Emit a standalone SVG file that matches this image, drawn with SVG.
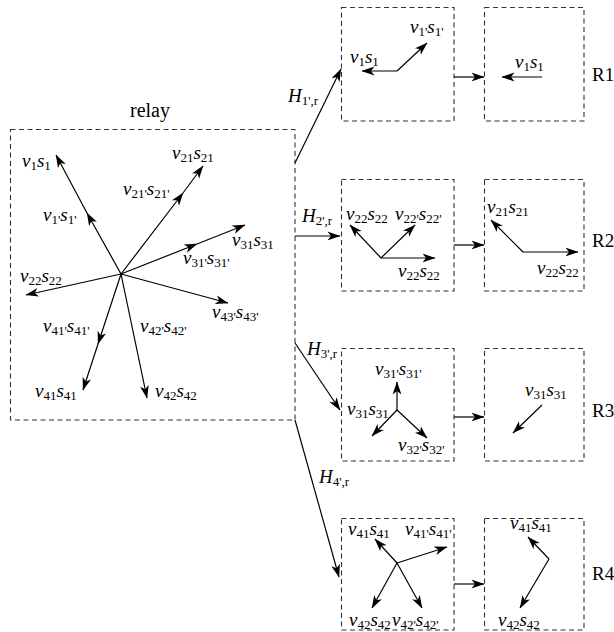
<svg xmlns="http://www.w3.org/2000/svg" width="614" height="632" viewBox="0 0 614 632">
<style>
.box{fill:none;stroke:#333;stroke-width:1.1;stroke-dasharray:5 3.5}
.ar{fill:none;stroke:#000;stroke-width:1.2;marker-end:url(#ah)}
.am{fill:none;stroke:#000;stroke-width:1.2;marker-mid:url(#ah);marker-end:url(#ah)}
.tx{font-family:'Times New Roman','Liberation Serif',Tinos,'Noto Serif','DejaVu Serif',serif;font-size:19px;fill:#000}
.i{font-style:italic}
.s{font-size:13px}
</style>
<defs>
<marker id="ah" viewBox="0 0 13 10" markerWidth="13" markerHeight="10" refX="12.5" refY="5" orient="auto" markerUnits="userSpaceOnUse">
<path d="M13,5 L0,0.6 L3.5,5 L0,9.4 Z" fill="#000"/>
</marker>
</defs>
<g class="tx">
<g id="relay">
<rect class="box" x="10.5" y="129.5" width="284.5" height="290.5"/>
<text x="130" y="117" font-size="20">relay</text>
<path class="am" d="M121,274 L87,213 L56,155"/>
<path class="am" d="M121,274 L183,193 L203,166"/>
<path class="am" d="M121,274 L197,244 L245,225"/>
<path class="ar" d="M121,274 L26,295"/>
<path class="am" d="M121,274 L98,344 L83,390"/>
<path class="ar" d="M121,274 L147,398"/>
<path class="ar" d="M121,274 L228,303"/>
<text x="22" y="167"><tspan class="i">v</tspan><tspan class="s" dy="3">1</tspan><tspan class="i" dy="-3">s</tspan><tspan class="s" dy="3">1</tspan></text>
<text x="43" y="221"><tspan class="i">v</tspan><tspan class="s" dy="3">1'</tspan><tspan class="i" dy="-3">s</tspan><tspan class="s" dy="3">1'</tspan></text>
<text x="172" y="159"><tspan class="i">v</tspan><tspan class="s" dy="3">21</tspan><tspan class="i" dy="-3">s</tspan><tspan class="s" dy="3">21</tspan></text>
<text x="123" y="195"><tspan class="i">v</tspan><tspan class="s" dy="3">21'</tspan><tspan class="i" dy="-3">s</tspan><tspan class="s" dy="3">21'</tspan></text>
<text x="232" y="246"><tspan class="i">v</tspan><tspan class="s" dy="3">31</tspan><tspan class="i" dy="-3">s</tspan><tspan class="s" dy="3">31</tspan></text>
<text x="183" y="264"><tspan class="i">v</tspan><tspan class="s" dy="3">31'</tspan><tspan class="i" dy="-3">s</tspan><tspan class="s" dy="3">31'</tspan></text>
<text x="20" y="282"><tspan class="i">v</tspan><tspan class="s" dy="3">22</tspan><tspan class="i" dy="-3">s</tspan><tspan class="s" dy="3">22</tspan></text>
<text x="212" y="318"><tspan class="i">v</tspan><tspan class="s" dy="3">43'</tspan><tspan class="i" dy="-3">s</tspan><tspan class="s" dy="3">43'</tspan></text>
<text x="43" y="332"><tspan class="i">v</tspan><tspan class="s" dy="3">41'</tspan><tspan class="i" dy="-3">s</tspan><tspan class="s" dy="3">41'</tspan></text>
<text x="140" y="332"><tspan class="i">v</tspan><tspan class="s" dy="3">42'</tspan><tspan class="i" dy="-3">s</tspan><tspan class="s" dy="3">42'</tspan></text>
<text x="35" y="397"><tspan class="i">v</tspan><tspan class="s" dy="3">41</tspan><tspan class="i" dy="-3">s</tspan><tspan class="s" dy="3">41</tspan></text>
<text x="155" y="397"><tspan class="i">v</tspan><tspan class="s" dy="3">42</tspan><tspan class="i" dy="-3">s</tspan><tspan class="s" dy="3">42</tspan></text>
</g>

<g id="r1a">
<rect class="box" x="341.5" y="7.5" width="112.5" height="113.5"/>
<path class="ar" d="M397,71 L362,71"/>
<path class="ar" d="M397,71 L427,43"/>
<text x="350" y="63"><tspan class="i">v</tspan><tspan class="s" dy="3">1</tspan><tspan class="i" dy="-3">s</tspan><tspan class="s" dy="3">1</tspan></text>
<text x="410" y="33"><tspan class="i">v</tspan><tspan class="s" dy="3">1'</tspan><tspan class="i" dy="-3">s</tspan><tspan class="s" dy="3">1'</tspan></text>
</g>
<g id="r1b">
<rect class="box" x="484.5" y="7.5" width="99.5" height="113.5"/>
<path class="ar" d="M542,77 L502,77"/>
<text x="515" y="68"><tspan class="i">v</tspan><tspan class="s" dy="3">1</tspan><tspan class="i" dy="-3">s</tspan><tspan class="s" dy="3">1</tspan></text>
<text x="592" y="81">R1</text>
</g>

<g id="r2a">
<rect class="box" x="341.5" y="179.5" width="112.5" height="111.5"/>
<path class="ar" d="M381,258 L350,225"/>
<path class="ar" d="M381,258 L415,225"/>
<path class="ar" d="M381,258 L435,258"/>
<text x="346" y="220"><tspan class="i">v</tspan><tspan class="s" dy="3">22</tspan><tspan class="i" dy="-3">s</tspan><tspan class="s" dy="3">22</tspan></text>
<text x="395" y="220"><tspan class="i">v</tspan><tspan class="s" dy="3">22'</tspan><tspan class="i" dy="-3">s</tspan><tspan class="s" dy="3">22'</tspan></text>
<text x="398" y="277"><tspan class="i">v</tspan><tspan class="s" dy="3">22</tspan><tspan class="i" dy="-3">s</tspan><tspan class="s" dy="3">22</tspan></text>
</g>
<g id="r2b">
<rect class="box" x="484.5" y="179.5" width="99.5" height="111.5"/>
<path class="ar" d="M523,252 L491,220"/>
<path class="ar" d="M523,252 L578,252"/>
<text x="487" y="213"><tspan class="i">v</tspan><tspan class="s" dy="3">21</tspan><tspan class="i" dy="-3">s</tspan><tspan class="s" dy="3">21</tspan></text>
<text x="537" y="274"><tspan class="i">v</tspan><tspan class="s" dy="3">22</tspan><tspan class="i" dy="-3">s</tspan><tspan class="s" dy="3">22</tspan></text>
<text x="592" y="247">R2</text>
</g>

<g id="r3a">
<rect class="box" x="341.5" y="348.5" width="112.5" height="112.5"/>
<path class="ar" d="M397,410 L397,382"/>
<path class="ar" d="M397,410 L372,436"/>
<path class="ar" d="M397,410 L427,438"/>
<text x="375" y="375"><tspan class="i">v</tspan><tspan class="s" dy="3">31'</tspan><tspan class="i" dy="-3">s</tspan><tspan class="s" dy="3">31'</tspan></text>
<text x="347" y="415"><tspan class="i">v</tspan><tspan class="s" dy="3">31</tspan><tspan class="i" dy="-3">s</tspan><tspan class="s" dy="3">31</tspan></text>
<text x="398" y="451"><tspan class="i">v</tspan><tspan class="s" dy="3">32'</tspan><tspan class="i" dy="-3">s</tspan><tspan class="s" dy="3">32'</tspan></text>
</g>
<g id="r3b">
<rect class="box" x="484.5" y="348.5" width="99.5" height="112.5"/>
<path class="ar" d="M542,405 L513,433"/>
<text x="525" y="396"><tspan class="i">v</tspan><tspan class="s" dy="3">31</tspan><tspan class="i" dy="-3">s</tspan><tspan class="s" dy="3">31</tspan></text>
<text x="592" y="417">R3</text>
</g>

<g id="r4a">
<rect class="box" x="341.5" y="518.5" width="112.5" height="111.5"/>
<path class="ar" d="M397,563 L375,539"/>
<path class="ar" d="M397,563 L447,547"/>
<path class="ar" d="M397,563 L372,608"/>
<path class="ar" d="M397,563 L422,608"/>
<text x="348" y="535"><tspan class="i">v</tspan><tspan class="s" dy="3">41</tspan><tspan class="i" dy="-3">s</tspan><tspan class="s" dy="3">41</tspan></text>
<text x="405" y="535"><tspan class="i">v</tspan><tspan class="s" dy="3">41'</tspan><tspan class="i" dy="-3">s</tspan><tspan class="s" dy="3">41'</tspan></text>
<text x="349" y="626"><tspan class="i">v</tspan><tspan class="s" dy="3">42</tspan><tspan class="i" dy="-3">s</tspan><tspan class="s" dy="3">42</tspan></text>
<text x="392" y="626"><tspan class="i">v</tspan><tspan class="s" dy="3">42'</tspan><tspan class="i" dy="-3">s</tspan><tspan class="s" dy="3">42'</tspan></text>
</g>
<g id="r4b">
<rect class="box" x="484.5" y="518.5" width="99.5" height="111.5"/>
<path class="ar" d="M549,559 L528,537"/>
<path class="ar" d="M549,559 L520,608"/>
<text x="510" y="529"><tspan class="i">v</tspan><tspan class="s" dy="3">41</tspan><tspan class="i" dy="-3">s</tspan><tspan class="s" dy="3">41</tspan></text>
<text x="498" y="626"><tspan class="i">v</tspan><tspan class="s" dy="3">42</tspan><tspan class="i" dy="-3">s</tspan><tspan class="s" dy="3">42</tspan></text>
<text x="592" y="580">R4</text>
</g>

<g id="connectors">
<path class="ar" d="M295,163 L341,69"/>
<path class="ar" d="M295,236 L340,236"/>
<path class="ar" d="M295,343 L340,410"/>
<path class="ar" d="M295,420 L339,577"/>
<path class="ar" d="M454,77 L484,77"/>
<path class="ar" d="M454,245 L484,245"/>
<path class="ar" d="M454,417 L484,417"/>
<path class="ar" d="M454,584 L484,584"/>
<text x="288" y="102"><tspan class="i">H</tspan><tspan class="s" dy="3">1',r</tspan></text>
<text x="302" y="222"><tspan class="i">H</tspan><tspan class="s" dy="3">2',r</tspan></text>
<text x="307" y="355"><tspan class="i">H</tspan><tspan class="s" dy="3">3',r</tspan></text>
<text x="319" y="483"><tspan class="i">H</tspan><tspan class="s" dy="3">4',r</tspan></text>
</g>
</g>
</svg>
